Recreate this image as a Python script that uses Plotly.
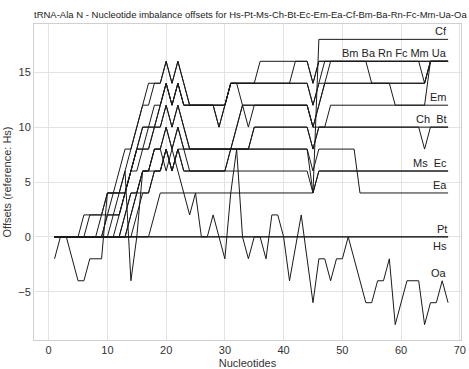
import plotly.graph_objects as go

# ---- data: vertices (nucleotide position, offset) of each series ----
hs_x = [1, 68]
hs_y = [0, 0]
pt_x = [1, 68]
pt_y = [0, 0]

bm_x = [1, 5, 6, 9, 10, 12, 13, 14, 15, 16, 17, 18, 19, 20, 21, 22, 23, 24, 28, 29, 30, 31, 35, 36, 44, 45, 46, 54, 55, 64, 65, 68]
bm_y = [0, 0, 2, 2, 4, 4, 6, 8, 10, 12, 12, 14, 14, 16, 14, 16, 14, 12, 12, 10, 12, 14, 14, 16, 16, 14, 16, 16, 14, 14, 16, 16]

ba_x = [1, 6, 7, 9, 10, 11, 12, 13, 14, 15, 16, 17, 19, 20, 21, 22, 23, 24, 30, 31, 41, 42, 44, 45, 46, 68]
ba_y = [0, 0, 2, 2, 4, 4, 6, 8, 8, 10, 12, 14, 14, 16, 14, 16, 14, 12, 12, 14, 14, 16, 16, 14, 16, 16]

rn_x = [1, 8, 9, 12, 13, 14, 15, 16, 17, 18, 19, 20, 21, 22, 23, 30, 31, 44, 45, 46, 58, 59, 64, 65, 68]
rn_y = [0, 0, 2, 2, 4, 6, 8, 10, 10, 12, 12, 14, 12, 14, 12, 12, 14, 14, 12, 14, 14, 12, 12, 16, 16]

fc_x = [1, 9, 10, 11, 13, 14, 15, 16, 18, 19, 20, 21, 22, 23, 28, 29, 30, 31, 44, 45, 46, 47, 63, 64, 65, 68]
fc_y = [0, 0, 2, 4, 4, 6, 8, 10, 10, 12, 14, 12, 14, 12, 12, 10, 12, 14, 14, 12, 14, 16, 16, 14, 16, 16]

mm_x = [1, 9, 10, 12, 13, 14, 15, 16, 17, 18, 19, 20, 21, 22, 23, 30, 31, 32, 33, 34, 35, 44, 45, 46, 47, 64, 65, 68]
mm_y = [0, 0, 2, 2, 4, 6, 8, 8, 10, 10, 12, 14, 12, 14, 12, 12, 14, 14, 12, 10, 12, 12, 10, 12, 14, 14, 16, 16]

ua_x = [1, 10, 11, 12, 13, 14, 15, 16, 17, 18, 19, 20, 21, 22, 23, 24, 31, 32, 33, 44, 45, 46, 47, 48, 68]
ua_y = [0, 0, 2, 4, 4, 6, 6, 8, 8, 10, 10, 12, 10, 12, 10, 8, 8, 10, 12, 12, 10, 12, 14, 16, 16]

em_x = [1, 11, 12, 13, 14, 15, 17, 18, 19, 20, 21, 22, 23, 24, 31, 32, 33, 44, 45, 47, 48, 68]
em_y = [0, 0, 2, 4, 6, 8, 8, 10, 10, 12, 10, 12, 10, 8, 8, 10, 12, 12, 10, 10, 12, 12]

ch_x = [1, 12, 13, 14, 15, 16, 17, 18, 19, 20, 21, 22, 23, 34, 35, 44, 45, 46, 63, 64, 65, 68]
ch_y = [0, 0, 2, 4, 4, 6, 6, 8, 8, 10, 8, 10, 8, 8, 10, 10, 8, 10, 10, 8, 10, 10]

bt_x = [1, 13, 14, 15, 16, 17, 18, 19, 20, 21, 22, 23, 24, 30, 31, 34, 35, 44, 45, 46, 68]
bt_y = [0, 0, 2, 4, 6, 6, 8, 8, 10, 8, 10, 8, 6, 6, 8, 8, 10, 10, 8, 10, 10]

cf_x = [1, 14, 15, 16, 17, 18, 19, 20, 21, 22, 23, 30, 31, 44, 45, 46, 68]
cf_y = [0, 0, 2, 4, 4, 6, 6, 8, 6, 8, 6, 6, 8, 8, 4, 18, 18]

ea_x = [1, 12, 13, 14, 15, 16, 17, 18, 19, 20, 21, 22, 23, 44, 45, 46, 52, 53, 68]
ea_y = [0, 0, 2, 4, 4, 6, 6, 6, 6, 8, 6, 8, 8, 8, 6, 8, 8, 4, 4]

ms_x = [1, 13, 14, 15, 16, 17, 18, 19, 20, 21, 22, 23, 44, 45, 46, 68]
ms_y = [0, 0, 2, 4, 4, 4, 6, 6, 8, 6, 8, 6, 6, 4, 6, 6]

ec_x = [1, 17, 18, 19, 45, 46, 68]
ec_y = [0, 0, 2, 4, 4, 6, 6]

oa_x = [1, 2, 3, 5, 6, 7, 9, 10, 12, 13, 14, 15, 16, 17, 18, 19, 20, 21, 22, 23, 24, 25, 26, 27, 28, 30,
        31, 32, 33, 34, 35, 36, 37, 38, 39, 40, 41, 43, 45, 46, 47, 48, 49, 50, 51, 54, 55, 56, 57, 58,
        59, 61, 63, 64, 65, 66, 67, 68]
oa_y = [-2, 0, 0, -4, -4, -2, -2, 4, 4, 6, -4, 0, 6, 6, 8, 8, 6, 8, 6, 4, 2, 4, 0, 0, 2, -2,
        4, 8, 0, -2, 0, 0, -2, 2, 2, 0, -4, 2, -6, -2, -2, -4, -2, -2, 0, -6, -6, -4, -4, -2,
        -8, -4, -4, -8, -6, -6, -4, -6]

series = [
    ("Hs", hs_x, hs_y), ("Pt", pt_x, pt_y), ("Ms", ms_x, ms_y), ("Ch", ch_x, ch_y),
    ("Bt", bt_x, bt_y), ("Ec", ec_x, ec_y), ("Em", em_x, em_y), ("Ea", ea_x, ea_y),
    ("Cf", cf_x, cf_y), ("Bm", bm_x, bm_y), ("Ba", ba_x, ba_y), ("Rn", rn_x, rn_y),
    ("Fc", fc_x, fc_y), ("Mm", mm_x, mm_y), ("Ua", ua_x, ua_y), ("Oa", oa_x, oa_y),
]

# end labels: text, y value, anchor
end_labels = [
    ("Cf", 18, "bottom"), ("Bm Ba Rn Fc Mm Ua", 16, "bottom"), ("Em", 12, "bottom"),
    ("Ch  Bt", 10, "bottom"), ("Ms  Ec", 6, "bottom"), ("Ea", 4, "bottom"),
    ("Pt", 0, "bottom"), ("Hs", 0, "top"), ("Oa", -4, "bottom"),
]

title_text = "tRNA-Ala N - Nucleotide imbalance offsets for Hs-Pt-Ms-Ch-Bt-Ec-Em-Ea-Cf-Bm-Ba-Rn-Fc-Mm-Ua-Oa"
x_ticks = [0, 10, 20, 30, 40, 50, 60, 70]
y_ticks = [-5, 0, 5, 10, 15]

FONT = "Liberation Sans, Arial, sans-serif"

fig = go.Figure()
for name, xs, ys in series:
    fig.add_trace(go.Scatter(x=xs, y=ys, mode="lines", name=name,
                             line=dict(color="#1a1a1a", width=1), hoverinfo="name"))

for text, yv, anch in end_labels:
    fig.add_annotation(x=68.2, y=yv, text=text, showarrow=False, xanchor="right",
                       yanchor=anch, yshift=0 if anch == "bottom" else -1,
                       font=dict(family=FONT, size=11, color="#222"))

axis_common = dict(showgrid=True, gridcolor="#e3e3e3", gridwidth=1, zeroline=False,
                   showline=True, linecolor="#d0d0d0", mirror=True, ticks="",
                   automargin=False,
                   tickfont=dict(family=FONT, size=11, color="#333"))

fig.update_layout(
    width=469, height=369,
    margin=dict(l=34, r=8, t=24, b=29, autoexpand=False),
    paper_bgcolor="white", plot_bgcolor="white",
    showlegend=False,
    title=dict(text=title_text, xref="paper", x=0, xanchor="left",
               yref="container", y=0.959, yanchor="middle",
               font=dict(family=FONT, size=9.5, color="#222")),
    xaxis=dict(range=[-2.5, 70.2], tickvals=x_ticks,
               title=dict(text="Nucleotides", standoff=6,
                          font=dict(family=FONT, size=11, color="#333")),
               **axis_common),
    yaxis=dict(range=[-9.4, 19.4], tickvals=y_ticks,
               title=dict(text="Offsets (reference: Hs)", standoff=4,
                          font=dict(family=FONT, size=11, color="#333")),
               **axis_common),
)

fig.write_html("out.html", config={"displayModeBar": False},
               post_script="document.body.style.margin='0';")
